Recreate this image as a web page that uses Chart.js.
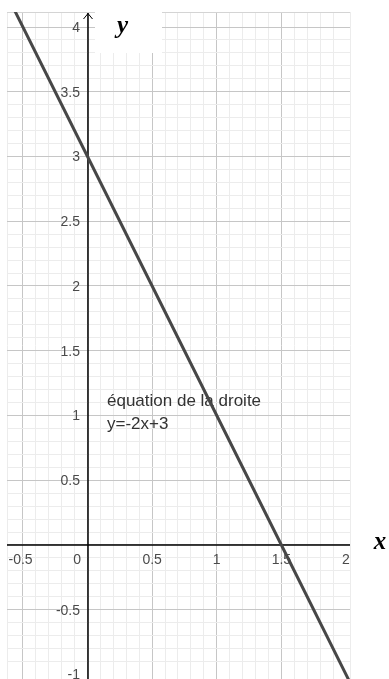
<!DOCTYPE html>
<html>
<head>
<meta charset="utf-8">
<script src="https://cdn.jsdelivr.net/npm/chart.js@4"></script>
<style>
  html, body { margin: 0; padding: 0; background: #fff; }
  #wrap { width: 389px; height: 679px; position: relative; }
</style>
</head>
<body>
<div id="wrap"><canvas id="graph"></canvas></div>
<script>
// axis labels shown along the two axes
const xTicks = [-0.5, 0, 0.5, 1, 1.5, 2];
const yTicks = [-1, -0.5, 0.5, 1, 1.5, 2, 2.5, 3, 3.5, 4];

// points on the line y = -2x + 3
const lineX = [-0.7, 0, 1.5, 2.1];
const lineY = [4.4, 3, 0, -1.2];

const noteLines = ["équation de la droite", "y=-2x+3"];

const X_MIN = -0.623, X_MAX = 2.031;
const Y_MIN = -1.035, Y_MAX = 4.116;

function isMajor(v) {
  return Math.abs(v * 2 - Math.round(v * 2)) < 1e-6;
}

function gridColor(ctx) {
  const v = ctx.tick.value;
  if (isMajor(v)) return "#c6c6c6";
  return "#ececec";
}

function fmt(v) {
  return String(v);
}

// axes, tick labels, note text (under the line)
const axesPlugin = {
  id: "axesPlugin",
  beforeDatasetsDraw(chart) {
    const { ctx, chartArea: a, scales } = chart;
    const xs = scales.x, ys = scales.y;
    const ox = Math.round(xs.getPixelForValue(0));
    const oy = Math.round(ys.getPixelForValue(0));
    ctx.save();

    // top edge of the grid
    ctx.strokeStyle = "#d4d4d4";
    ctx.lineWidth = 1;
    ctx.beginPath();
    ctx.moveTo(a.left, a.top + 0.5);
    ctx.lineTo(a.right, a.top + 0.5);
    ctx.stroke();

    // white patch behind the y title
    ctx.fillStyle = "#fff";
    ctx.fillRect(ox + 7, 0, 67, 53);

    ctx.beginPath();
    ctx.rect(a.left, a.top, a.right - a.left, a.bottom - a.top);
    ctx.clip();

    // axes
    ctx.strokeStyle = "#000";
    ctx.lineWidth = 1.5;
    ctx.beginPath();
    ctx.moveTo(a.left, oy);
    ctx.lineTo(a.right, oy);
    ctx.moveTo(ox, a.top + 1);
    ctx.lineTo(ox, a.bottom);
    ctx.stroke();
    ctx.lineWidth = 1;
    ctx.beginPath();
    ctx.moveTo(ox - 4.5, a.top + 7);
    ctx.lineTo(ox, a.top + 1.5);
    ctx.lineTo(ox + 4.5, a.top + 7);
    ctx.stroke();

    // tick labels
    ctx.font = "14px 'Liberation Sans', Arial, sans-serif";
    ctx.fillStyle = "#4a4a4a";
    ctx.textBaseline = "middle";
    ctx.textAlign = "right";
    yTicks.forEach(v => {
      ctx.fillText(fmt(v), ox - 8, ys.getPixelForValue(v) + 1);
    });
    xTicks.forEach(v => {
      const px = xs.getPixelForValue(v);
      const y = oy + 15;
      if (v === 0) {
        ctx.textAlign = "right";
        ctx.fillText("0", ox - 7, y);
        return;
      }
      ctx.textAlign = "center";
      const shift = v < 0 ? ctx.measureText("-").width / 2 : 0;
      ctx.fillText(fmt(v), px - shift, y);
    });

    // equation note
    ctx.font = "17px 'Liberation Sans', Arial, sans-serif";
    ctx.fillStyle = "#333";
    ctx.textAlign = "left";
    ctx.fillText(noteLines[0], ox + 19, ys.getPixelForValue(1.11));
    ctx.fillText(noteLines[1], ox + 19, ys.getPixelForValue(0.93));

    ctx.restore();
  },
  afterDraw(chart) {
    const { ctx, scales } = chart;
    const ox = scales.x.getPixelForValue(0);
    const oy = scales.y.getPixelForValue(0);
    ctx.save();
    ctx.font = "bold italic 25px 'Liberation Serif', 'DejaVu Serif', serif";
    ctx.fillStyle = "#000";
    ctx.textAlign = "center";
    ctx.textBaseline = "middle";
    ctx.fillText("y", ox + 35, 27);
    ctx.fillText("x", 380, oy - 2);
    ctx.restore();
  }
};

const points = lineX.map((x, i) => ({ x, y: lineY[i] }));

new Chart(document.getElementById("graph"), {
  type: "line",
  data: {
    datasets: [{
      data: points,
      borderColor: "#474747",
      borderWidth: 3,
      pointRadius: 0,
      fill: false,
      clip: 0
    }]
  },
  options: {
    responsive: true,
    maintainAspectRatio: false,
    animation: false,
    devicePixelRatio: 1,
    layout: { padding: { left: 7, right: 39, top: 12, bottom: 0 } },
    plugins: { legend: { display: false }, tooltip: { enabled: false } },
    scales: {
      x: {
        type: "linear",
        min: X_MIN,
        max: X_MAX,
        ticks: { display: false, stepSize: 0.1, maxTicksLimit: 200, autoSkip: false },
        grid: { drawTicks: false, color: gridColor, lineWidth: 1 },
        border: { display: false },
        afterFit(s) { s.height = 0; }
      },
      y: {
        type: "linear",
        min: Y_MIN,
        max: Y_MAX,
        ticks: { display: false, stepSize: 0.1, maxTicksLimit: 200, autoSkip: false },
        grid: { drawTicks: false, color: gridColor, lineWidth: 1 },
        border: { display: false },
        afterFit(s) { s.width = 0; }
      }
    }
  },
  plugins: [axesPlugin]
});
</script>
</body>
</html>
